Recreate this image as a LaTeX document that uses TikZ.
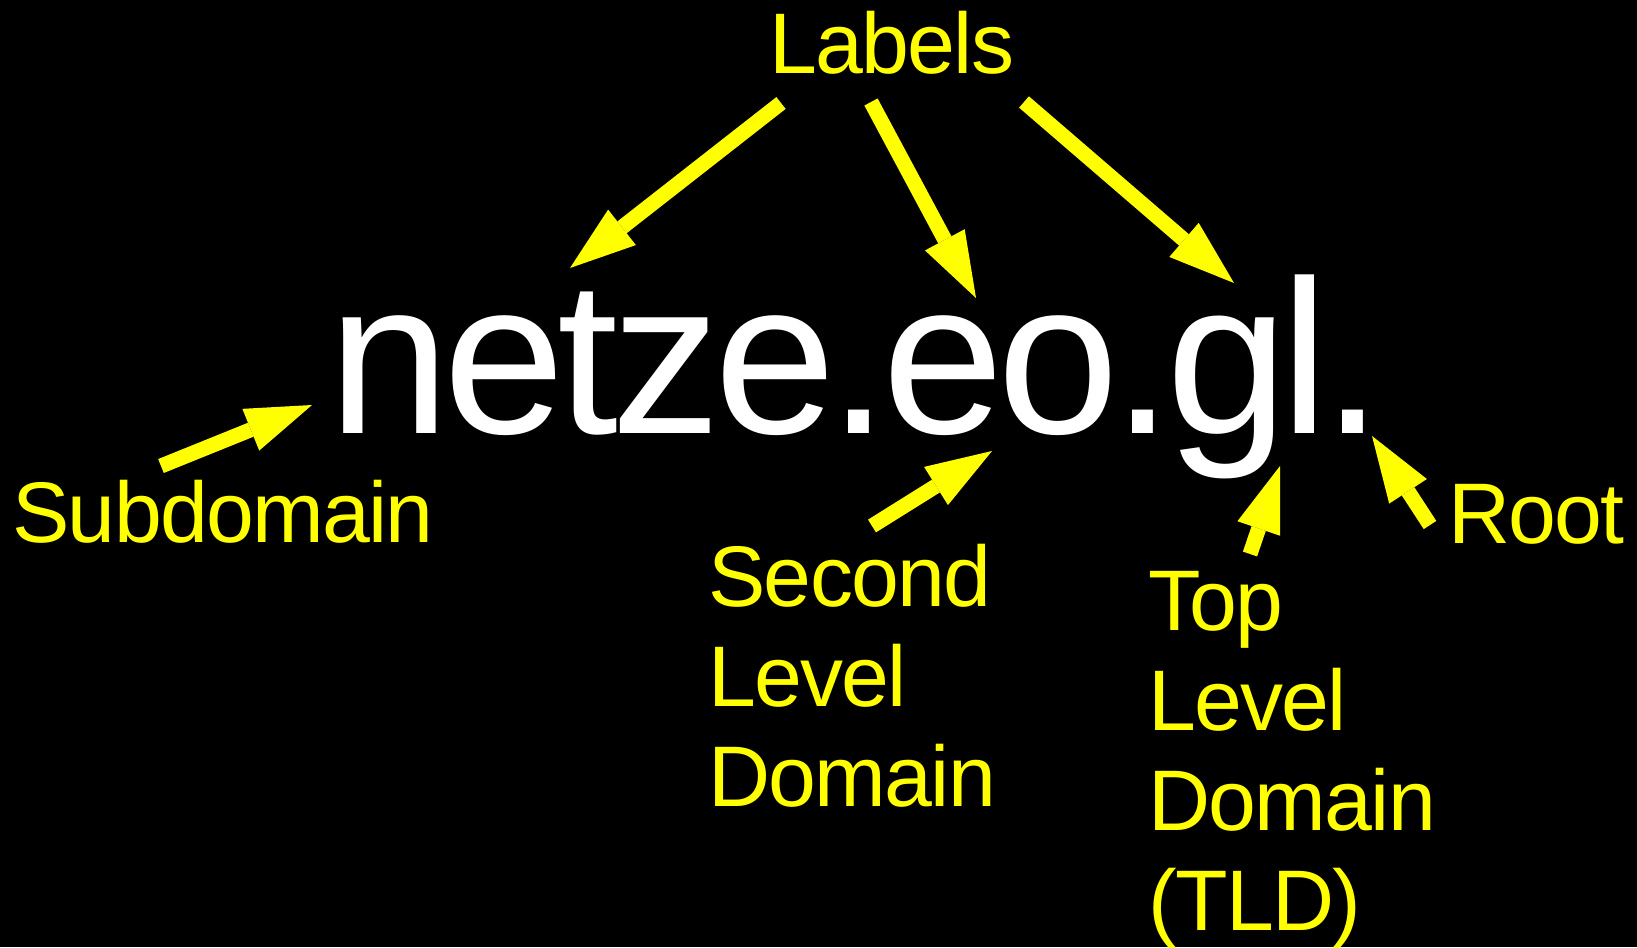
\documentclass[tikz,border=0pt]{standalone}
\usepackage{fontspec}
\setmainfont{Liberation Sans}
\newfontfamily\mainbig[LetterSpace=-3.2]{Liberation Sans}
\newfontfamily\labfont[LetterSpace=-2]{Liberation Sans}
\usetikzlibrary{arrows.meta}
\definecolor{yel}{RGB}{255,255,0}
\begin{document}
\begin{tikzpicture}[x=1pt,y=-1pt,
  lbl/.style={text=yel, inner sep=0pt, anchor=base west, align=left,
    font=\labfont\fontsize{86}{100}\selectfont},
  arr/.style={draw=yel, line width=15pt, line cap=butt,
    -{Triangle[length=66pt,width=45pt,line width=0pt]}}]
\fill[black] (0,0) rectangle (1637,947);
\useasboundingbox (0,0) rectangle (1637,947);

\node[anchor=base west, inner sep=0pt, text=white,
  font=\mainbig\fontsize{219}{220}\selectfont] (dom) at (328,433) {netze.eo.gl.};

\node[lbl] (labels) at (769,74) {Labels};
\node[lbl] (sub) at (12,542) {Subdomain};
\node[lbl] (sld) at (708,806) {Second\\Level\\Domain};
\node[lbl] (tld) at (1148,930) {Top\\Level\\Domain\\(TLD)};
\node[lbl] (root) at (1448,543) {Root};

\coordinate (a1s) at (781,103);  \coordinate (a1e) at (570,268);
\coordinate (a2s) at (871,102);  \coordinate (a2e) at (976,298);
\coordinate (a3s) at (1024,102); \coordinate (a3e) at (1234,283);
\coordinate (a4s) at (161,466);  \coordinate (a4e) at (312,405);
\coordinate (a5s) at (872,526);  \coordinate (a5e) at (992,451);
\coordinate (a6s) at (1250,554); \coordinate (a6e) at (1280,466);
\coordinate (a7s) at (1430,525); \coordinate (a7e) at (1372,436);

\draw[arr] (a1s) -- (a1e);
\draw[arr] (a2s) -- (a2e);
\draw[arr] (a3s) -- (a3e);
\draw[arr] (a4s) -- (a4e);
\draw[arr] (a5s) -- (a5e);
\draw[arr] (a6s) -- (a6e);
\draw[arr] (a7s) -- (a7e);
\end{tikzpicture}
\end{document}
